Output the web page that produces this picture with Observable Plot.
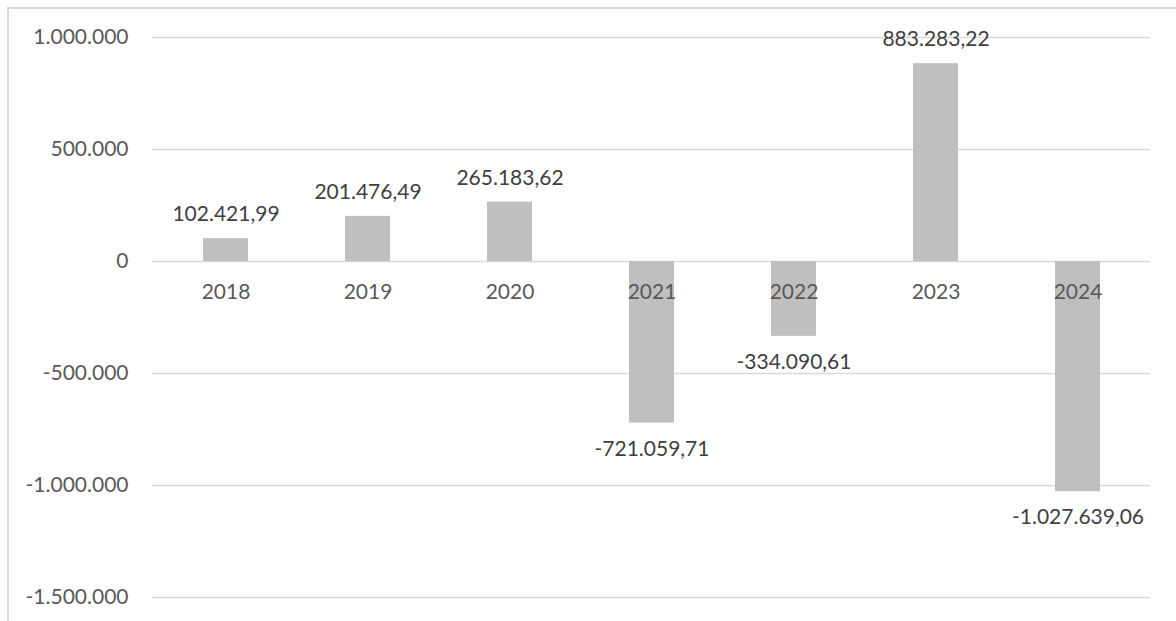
<!DOCTYPE html>
<html><head><meta charset="utf-8">
<script src="https://cdn.jsdelivr.net/npm/d3@7"></script>
<script src="https://cdn.jsdelivr.net/npm/@observablehq/plot@0.6"></script>
<style>
body{margin:0;background:#fff;}
#wrap{position:relative;width:1176px;height:621px;overflow:hidden;background:#fff;}
#border{position:absolute;left:7px;top:7px;width:1300px;height:700px;border:2px solid #d9d9d9;box-sizing:border-box;}
#chart{position:absolute;left:0;top:0;}
</style></head><body><div id="wrap"><div id="border"></div><div id="chart"></div></div>
<script>
const years = ["2018", "2019", "2020", "2021", "2022", "2023", "2024"];
const values = [102421.99, 201476.49, 265183.62, -721059.71, -334090.61, 883283.22, -1027639.06];
const yTicks = [1000000, 500000, 0, -500000, -1000000, -1500000];

const loc = d3.formatLocale({decimal: ",", thousands: ".", grouping: [3], currency: ["", "€"], minus: "-"});
const fmtTick = loc.format(",.0f");
const fmtVal = loc.format(",.2f");
const data = years.map((year, i) => ({year, value: values[i]}));

const chart = Plot.plot({
  width: 1176, height: 621,
  marginLeft: 152, marginRight: 26, marginTop: 37, marginBottom: 24,
  style: {fontFamily: "Lato", fontSize: "21px", background: "transparent"},
  x: {domain: years, paddingInner: 0.684, paddingOuter: 0.342, axis: null},
  y: {domain: [-1500000, 1000000], label: null},
  marks: [
    Plot.ruleY(yTicks, {stroke: "#d9d9d9", strokeWidth: 1.5}),
    Plot.axisY(yTicks, {tickSize: 0, tickPadding: 24, tickFormat: fmtTick, fill: "#595959", label: null}),
    Plot.barY(data, {x: "year", y: "value", fill: "#bfbfbf"}),
    Plot.text(data, {x: "year", y: 0, text: "year", dy: 31, fill: "#595959"}),
    Plot.text(data.filter(d => d.value >= 0), {x: "year", y: "value", text: d => fmtVal(d.value), dy: -24, fill: "#404040"}),
    Plot.text(data.filter(d => d.value < 0), {x: "year", y: "value", text: d => fmtVal(d.value), dy: 26, fill: "#404040"})
  ]
});
document.getElementById("chart").appendChild(chart);
</script>
</body></html>
